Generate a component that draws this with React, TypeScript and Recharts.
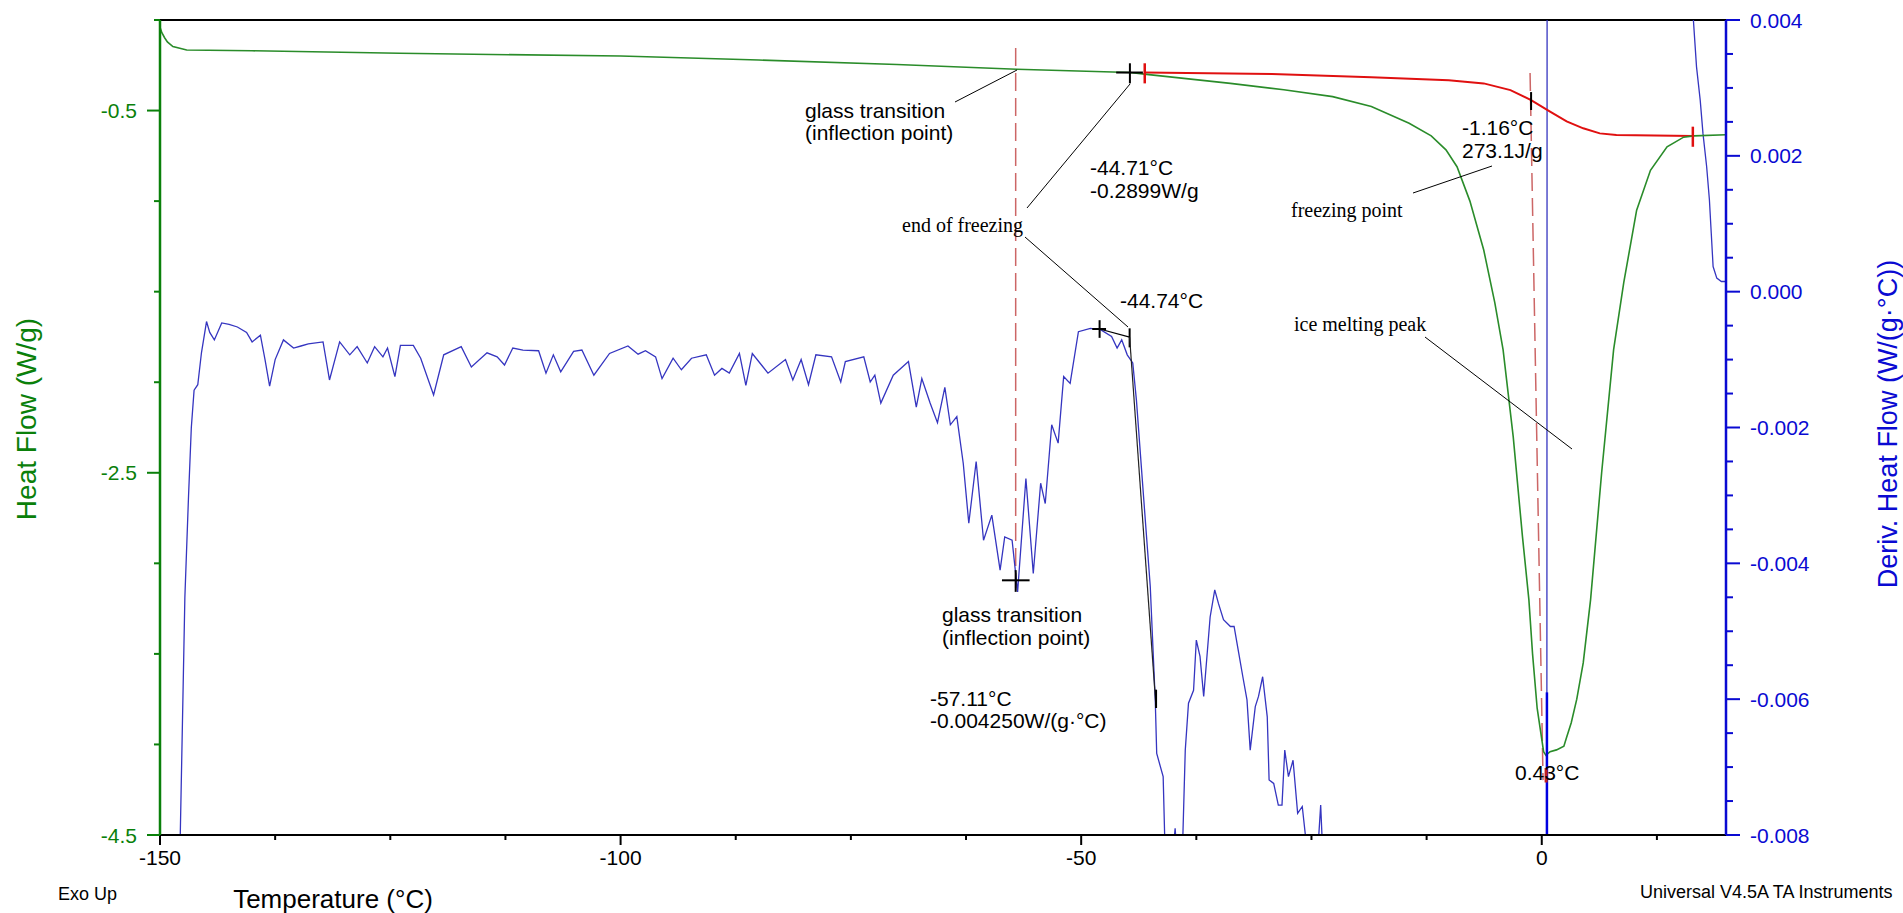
import React from 'react';
import { LineChart, Line, XAxis, YAxis, ReferenceLine } from 'recharts';

// heat flow (W/g), green, left axis
const heatFlowTemp = [
  -150, -149.8, -149.5, -149.2, -148.6, -147.1, -140, -124, -100, -85, -70, -57, -44.7, -42.9, -33.8, -28,
  -22.7, -18.5, -14.4, -12, -10.4, -9.2, -7.8, -6.3, -5.1, -4.2, -3.1, -2.1, -1.4, -1, -0.5, 0.2, 0.45, 0.9,
  1.6, 2.4, 2.7, 3.2, 3.8, 4.5, 5.3, 6.5, 7.8, 8.9, 10.3, 11.8, 13.6, 15.4, 16.5, 20,
];
const heatFlowValues = [
  -0.04, -0.07, -0.098, -0.121, -0.147, -0.166, -0.17, -0.184, -0.199, -0.221, -0.246, -0.272, -0.29, -0.3,
  -0.35, -0.385, -0.423, -0.478, -0.57, -0.64, -0.717, -0.81, -1.0, -1.27, -1.56, -1.82, -2.3, -2.85, -3.2,
  -3.5, -3.8, -4.04, -4.06, -4.04, -4.03, -4.01, -3.96, -3.88, -3.75, -3.55, -3.2, -2.5, -1.82, -1.45, -1.05,
  -0.83, -0.7, -0.647, -0.64, -0.634,
];

// integration baseline (red)
const baselineTemp = [-43.1, -29.3, -18.5, -10.1, -6.3, -3.4, -1.16, 0.9, 2.7, 4.5, 6.3, 8.1, 16.4];
const baselineValues = [-0.29, -0.298, -0.316, -0.333, -0.35, -0.387, -0.442, -0.506, -0.56, -0.598, -0.626, -0.635, -0.64];

// derivative heat flow (W/(g·°C)), blue, right axis
const derivTemp = [
  -148, -147.8, -147.6, -147.3, -146.9, -146.6, -146.3, -145.9, -145.5, -144.95, -144.6, -144.1, -143.3,
  -142.5, -141.6, -140.6, -140, -139.1, -138.6, -138.1, -137.5, -136.6, -135.5, -134.7, -133.9, -132.3,
  -131.6, -130.5, -129.4, -128.6, -127.5, -126.7, -125.8, -125.3, -124.5, -123.9, -122.5, -121.7, -120.3,
  -119.2, -117.3, -116.2, -114.5, -113.4, -112.6, -111.7, -110.6, -108.9, -108.1, -107.3, -106.5, -105.1,
  -104.2, -102.9, -101.2, -99.2, -98.1, -97.3, -96.2, -95.5, -94.3, -93.4, -92.3, -90.7, -89.8, -89, -88.2,
  -87.1, -86.4, -85.7, -84, -82.1, -81.3, -80.4, -79.6, -78.8, -77.1, -76.1, -75.6, -73.6, -72.9, -72.4,
  -71.75, -70.4, -68.75, -67.9, -67.3, -66.4, -65.6, -64.8, -64.2, -63.5, -62.8, -62.2, -61.4, -60.6, -59.7,
  -58.8, -58.3, -57.5, -56.9, -56, -55.2, -54.4, -53.9, -53.2, -52.5, -51.9, -51.2, -50.3, -49, -47.9, -46.7,
  -46.1, -45.6, -45, -44.4, -44, -43.2, -42.5, -41.96, -41.8, -41.1, -40.9, -40.2, -39.8, -39.5, -39, -38.7,
  -38.35, -37.8, -37.5, -37.1, -36.7, -36, -35.5, -35.1, -34.55, -33.8, -33.4, -32.9, -32.45, -32, -31.65,
  -31.1, -30.75, -30.3, -29.8, -29.6, -29.1, -28.6, -28.2, -27.9, -27.5, -27, -26.5, -26, -25.5, -24.4,
  -24.25, -24, -23.8, -23.5, 0.55, 0.58, 16.3, 16.46, 16.8, 17.2, 17.5, 17.9, 18.2, 18.4, 18.6, 19, 19.5, 20,
];
const derivValues = [
  -0.0086, -0.008, -0.0066, -0.0045, -0.003, -0.002, -0.00145, -0.00137, -0.0009, -0.00044, -0.0006,
  -0.00071, -0.00046, -0.00048, -0.00052, -0.0006, -0.00074, -0.00064, -0.001, -0.00139, -0.001, -0.00071,
  -0.00083, -0.0008, -0.00077, -0.00074, -0.0013, -0.00074, -0.00093, -0.00081, -0.00105, -0.00081,
  -0.00096, -0.00083, -0.00125, -0.00079, -0.00079, -0.00098, -0.00152, -0.00093, -0.00081, -0.00111,
  -0.0009, -0.00096, -0.00108, -0.00083, -0.00086, -0.00087, -0.0012, -0.00093, -0.00118, -0.00088,
  -0.00086, -0.00123, -0.00091, -0.0008, -0.00092, -0.00087, -0.00096, -0.00128, -0.00098, -0.00115,
  -0.00098, -0.00093, -0.00123, -0.00113, -0.0012, -0.00091, -0.00138, -0.00091, -0.0012, -0.001, -0.0013,
  -0.001, -0.00137, -0.00093, -0.00096, -0.00133, -0.00103, -0.00096, -0.00133, -0.00123, -0.00164,
  -0.00123, -0.00103, -0.0017, -0.00128, -0.00164, -0.00193, -0.00141, -0.00196, -0.00184, -0.00253,
  -0.00341, -0.0025, -0.00366, -0.00329, -0.0041, -0.00361, -0.00366, -0.00442, -0.00275, -0.00415,
  -0.00282, -0.00312, -0.00196, -0.00223, -0.00125, -0.00135, -0.00059, -0.00054, -0.00056, -0.00066,
  -0.00083, -0.00071, -0.00093, -0.00105, -0.0016, -0.00307, -0.00434, -0.00601, -0.0068, -0.00714,
  -0.0082, -0.0085, -0.0079, -0.0085, -0.0082, -0.00675, -0.00606, -0.00587, -0.00513, -0.00537, -0.00596,
  -0.00479, -0.00439, -0.00459, -0.00483, -0.00493, -0.00493, -0.00532, -0.00567, -0.00601, -0.00675,
  -0.00611, -0.00596, -0.00567, -0.00626, -0.00719, -0.00724, -0.00756, -0.00756, -0.00675, -0.00714,
  -0.0069, -0.00768, -0.00758, -0.0082, -0.0085, -0.0081, -0.00756, -0.0082, -0.0086, -0.0086, 0.0046,
  0.0046, 0.004, 0.00331, 0.00282, 0.00233, 0.00184, 0.00135, 0.00086, 0.00037, 0.0002, 0.00015, 0.00015,
];

// axis ticks
const xTicks = [-150, -137.5, -125, -112.5, -100, -87.5, -75, -62.5, -50, -37.5, -25, -12.5, 0, 12.5];
const xTickLabels = [-150, -100, -50, 0];
const leftTicks = [-4.5, -4, -3.5, -3, -2.5, -2, -1.5, -1, -0.5, 0];
const leftTickLabels = [-4.5, -2.5, -0.5];
const rightTicks = [
  -0.008, -0.0075, -0.007, -0.0065, -0.006, -0.0055, -0.005, -0.0045, -0.004, -0.0035, -0.003, -0.0025,
  -0.002, -0.0015, -0.001, -0.0005, 0, 0.0005, 0.001, 0.0015, 0.002, 0.0025, 0.003, 0.0035, 0.004,
];
const rightTickLabels = [-0.008, -0.006, -0.004, -0.002, 0, 0.002, 0.004];

const heatFlowData = heatFlowTemp.map((t, i) => ({ t, v: heatFlowValues[i] }));
const baselineData = baselineTemp.map((t, i) => ({ t, v: baselineValues[i] }));
const derivData = derivTemp.map((t, i) => ({ t, d: derivValues[i] }));

const SANS = '"Liberation Sans", Arial, sans-serif';
const SERIF = '"Liberation Serif", "Times New Roman", serif';
const GREEN = '#0a800a';
const BLUE = '#0a0ad2';

const XTick = (props: any) => {
  const { x, y, payload } = props;
  const major = xTickLabels.includes(payload.value);
  return (
    <g>
      <line x1={x} y1={y} x2={x} y2={y + (major ? 10 : 5)} stroke="#000" strokeWidth={2} />
      {major && (
        <text x={x} y={y + 30} textAnchor="middle" fontSize={21} fontFamily={SANS} fill="#000">
          {payload.value}
        </text>
      )}
    </g>
  );
};

const LeftTick = (props: any) => {
  const { x, y, payload } = props;
  const major = leftTickLabels.includes(payload.value);
  return (
    <g>
      <line x1={x - (major ? 13 : 6)} y1={y} x2={x} y2={y} stroke={GREEN} strokeWidth={2} />
      {major && (
        <text x={x - 23} y={y + 7.5} textAnchor="end" fontSize={21} fontFamily={SANS} fill={GREEN}>
          {payload.value}
        </text>
      )}
    </g>
  );
};

const RightTick = (props: any) => {
  const { x, y, payload } = props;
  const major = rightTickLabels.some((v) => Math.abs(v - payload.value) < 1e-9);
  return (
    <g>
      <line x1={x} y1={y} x2={x + (major ? 14 : 7)} y2={y} stroke={BLUE} strokeWidth={2} />
      {major && (
        <text x={x + 24} y={y + 7.5} textAnchor="start" fontSize={21} fontFamily={SANS} fill={BLUE}>
          {payload.value.toFixed(3)}
        </text>
      )}
    </g>
  );
};

// annotation texts, pixel positions
const notes = [
  { x: 805, y: 118, text: 'glass transition', serif: false },
  { x: 805, y: 140, text: '(inflection point)', serif: false },
  { x: 1090, y: 175, text: '-44.71°C', serif: false },
  { x: 1090, y: 198, text: '-0.2899W/g', serif: false },
  { x: 902, y: 232, text: 'end of freezing', serif: true },
  { x: 1120, y: 308, text: '-44.74°C', serif: false },
  { x: 1291, y: 217, text: 'freezing point', serif: true },
  { x: 1462, y: 135, text: '-1.16°C', serif: false },
  { x: 1462, y: 158, text: '273.1J/g', serif: false },
  { x: 1294, y: 331, text: 'ice melting peak', serif: true },
  { x: 942, y: 622, text: 'glass transition', serif: false },
  { x: 942, y: 645, text: '(inflection point)', serif: false },
  { x: 930, y: 706, text: '-57.11°C', serif: false },
  { x: 930, y: 728, text: '-0.004250W/(g·°C)', serif: false },
  { x: 1515, y: 780, text: '0.43°C', serif: false },
];
const leaders = [
  [955, 102, 1017, 70],
  [1130, 84, 1027, 208],
  [1025, 237, 1128, 327],
  [1413, 193, 1492, 166],
  [1425, 337, 1572, 449],
];

export default function App() {
  return (
    <div style={{ position: 'fixed', left: 0, top: 0, width: 1903, height: 913, background: '#fff', overflow: 'hidden' }}>
      <LineChart width={1903} height={913} margin={{ top: 20, right: 77, bottom: 38, left: 100 }}>
        <XAxis
          type="number"
          dataKey="t"
          domain={[-150, 20]}
          ticks={xTicks}
          interval={0}
          allowDataOverflow
          height={40}
          tickSize={0}
          tickMargin={0}
          tickLine={false}
          axisLine={{ stroke: '#000', strokeWidth: 2 }}
          tick={XTick}
        />
        <YAxis
          yAxisId="left"
          type="number"
          domain={[-4.5, 0]}
          ticks={leftTicks}
          interval={0}
          allowDataOverflow
          width={60}
          tickSize={0}
          tickMargin={0}
          tickLine={false}
          axisLine={{ stroke: GREEN, strokeWidth: 2.5 }}
          tick={LeftTick}
        />
        <YAxis
          yAxisId="right"
          orientation="right"
          type="number"
          domain={[-0.008, 0.004]}
          ticks={rightTicks}
          interval={0}
          allowDataOverflow
          width={100}
          tickSize={0}
          tickMargin={0}
          tickLine={false}
          axisLine={{ stroke: BLUE, strokeWidth: 2.5 }}
          tick={RightTick}
        />
        <ReferenceLine yAxisId="left" y={0} stroke="#000" strokeWidth={2} />

        {/* dashed inflection markers */}
        <ReferenceLine
          yAxisId="left"
          segment={[{ x: -57.11, y: -0.155 }, { x: -57.11, y: -3.136 }]}
          stroke="#cc6666"
          strokeWidth={1.5}
          strokeDasharray="18 7"
        />
        <ReferenceLine
          yAxisId="left"
          segment={[{ x: -1.27, y: -0.293 }, { x: 0.14, y: -4.197 }]}
          stroke="#cc6666"
          strokeWidth={1.5}
          strokeDasharray="18 7"
        />

        <Line
          yAxisId="right"
          data={derivData}
          dataKey="d"
          type="linear"
          stroke="#3535c0"
          strokeWidth={1.3}
          dot={false}
          activeDot={false}
          isAnimationActive={false}
        />
        <Line
          yAxisId="left"
          data={baselineData}
          dataKey="v"
          type="linear"
          stroke="#e01010"
          strokeWidth={2}
          dot={false}
          activeDot={false}
          isAnimationActive={false}
        />
        <Line
          yAxisId="left"
          data={heatFlowData}
          dataKey="v"
          type="linear"
          stroke="#2a8c2a"
          strokeWidth={1.6}
          dot={false}
          activeDot={false}
          isAnimationActive={false}
        />

        {/* thick part of the derivative at the melting crossing */}
        <ReferenceLine yAxisId="right" segment={[{ x: 0.56, y: -0.008 }, { x: 0.56, y: -0.0059 }]} stroke="#0000e0" strokeWidth={2.5} />

        {/* analysis marks on heat flow */}
        <ReferenceLine yAxisId="left" segment={[{ x: -46.2, y: -0.29 }, { x: -43.3, y: -0.29 }]} stroke="#000" strokeWidth={2} />
        <ReferenceLine yAxisId="left" segment={[{ x: -44.71, y: -0.239 }, { x: -44.71, y: -0.35 }]} stroke="#000" strokeWidth={2} />
        <ReferenceLine yAxisId="left" segment={[{ x: -43.1, y: -0.239 }, { x: -43.1, y: -0.35 }]} stroke="#e01010" strokeWidth={2.5} />
        <ReferenceLine yAxisId="left" segment={[{ x: 16.4, y: -0.589 }, { x: 16.4, y: -0.7 }]} stroke="#e01010" strokeWidth={2.5} />
        <ReferenceLine yAxisId="left" segment={[{ x: -1.16, y: -0.398 }, { x: -1.16, y: -0.497 }]} stroke="#000" strokeWidth={2} />
        <ReferenceLine yAxisId="left" segment={[{ x: 0.47, y: -4.13 }, { x: 0.47, y: -4.21 }]} stroke="#c02020" strokeWidth={3} />

        {/* analysis marks on derivative */}
        <ReferenceLine yAxisId="right" segment={[{ x: -58.6, y: -0.00425 }, { x: -55.6, y: -0.00425 }]} stroke="#000" strokeWidth={2} />
        <ReferenceLine yAxisId="right" segment={[{ x: -57.11, y: -0.0041 }, { x: -57.11, y: -0.00442 }]} stroke="#000" strokeWidth={2} />
        <ReferenceLine yAxisId="right" segment={[{ x: -48.8, y: -0.00055 }, { x: -47.3, y: -0.00055 }]} stroke="#000" strokeWidth={2} />
        <ReferenceLine yAxisId="right" segment={[{ x: -48.0, y: -0.00042 }, { x: -48.0, y: -0.00068 }]} stroke="#000" strokeWidth={2} />
        <ReferenceLine yAxisId="right" segment={[{ x: -48.0, y: -0.00055 }, { x: -44.74, y: -0.00067 }]} stroke="#000" strokeWidth={1.2} />
        <ReferenceLine yAxisId="right" segment={[{ x: -44.74, y: -0.00054 }, { x: -44.74, y: -0.00082 }]} stroke="#000" strokeWidth={2} />
        <ReferenceLine yAxisId="right" segment={[{ x: -44.74, y: -0.00067 }, { x: -41.87, y: -0.00613 }]} stroke="#222" strokeWidth={1.2} />
        <ReferenceLine yAxisId="right" segment={[{ x: -41.87, y: -0.00586 }, { x: -41.87, y: -0.00613 }]} stroke="#000" strokeWidth={2} />
      </LineChart>

      <svg width={1903} height={913} style={{ position: 'absolute', left: 0, top: 0, pointerEvents: 'none' }}>
        {leaders.map(([x1, y1, x2, y2], i) => (
          <line key={i} x1={x1} y1={y1} x2={x2} y2={y2} stroke="#000" strokeWidth={1} />
        ))}
        {notes.map((n, i) => (
          <text key={i} x={n.x} y={n.y} fontSize={n.serif ? 20 : 21} fontFamily={n.serif ? SERIF : SANS} fill="#000">
            {n.text}
          </text>
        ))}
        <text x={58} y={900} fontSize={18} fontFamily={SANS} fill="#000">Exo Up</text>
        <text x={1640} y={898} fontSize={18} fontFamily={SANS} fill="#000">Universal V4.5A TA Instruments</text>
        <text x={333} y={908} fontSize={26} textAnchor="middle" fontFamily={SANS} fill="#000">Temperature (°C)</text>
        <text x={0} y={0} fontSize={28} textAnchor="middle" fontFamily={SANS} fill={GREEN} transform="translate(36 419) rotate(-90)">
          Heat Flow (W/g)
        </text>
        <text x={0} y={0} fontSize={27} textAnchor="middle" fontFamily={SANS} fill={BLUE} transform="translate(1897 424) rotate(-90)">
          Deriv. Heat Flow (W/(g·°C))
        </text>
      </svg>
    </div>
  );
}
